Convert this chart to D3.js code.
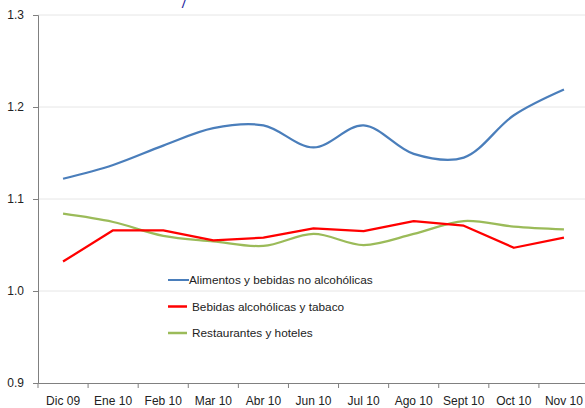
<!DOCTYPE html>
<html>
<head>
<meta charset="utf-8">
<script src="https://cdn.jsdelivr.net/npm/d3@7"></script>
<style>
body{margin:0;background:#fff;}
svg{display:block;}
text{font-family:"Liberation Sans",Arial,sans-serif;}
</style>
</head>
<body>
<svg id="chart" width="585" height="408"></svg>
<script>
const categories = ["Dic 09","Ene 10","Feb 10","Mar 10","Abr 10","Jun 10","Jul 10","Ago 10","Sept 10","Oct 10","Nov 10"];
const alimentos = [1.122,1.137,1.158,1.177,1.180,1.156,1.180,1.149,1.145,1.191,1.219];
const bebidas = [1.032,1.066,1.066,1.055,1.058,1.068,1.065,1.076,1.071,1.047,1.058];
const restaurantes = [1.084,1.075,1.060,1.054,1.049,1.062,1.050,1.062,1.076,1.070,1.067];
const yTicks = [0.9,1.0,1.1,1.2,1.3];
const seriesNames = ["Alimentos y bebidas no alcohólicas","Bebidas alcohólicas y tabaco","Restaurantes y hoteles"];

const svg = d3.select("#chart");
const mLeft = 38, mRight = 589, mTop = 15, mBottom = 383;

const x = d3.scaleBand().domain(categories).range([mLeft, mRight]);
const y = d3.scaleLinear().domain([0.9, 1.3]).range([mBottom, mTop]);

// gridlines
svg.append("g").selectAll("line").data(yTicks.filter(d => d > 0.9)).enter().append("line")
  .attr("x1", mLeft).attr("x2", 585)
  .attr("y1", d => y(d)).attr("y2", d => y(d))
  .attr("stroke", "#e6e6e6").attr("stroke-width", 1);

// y axis
const yAxis = svg.append("g").attr("transform", `translate(${mLeft},0)`)
  .call(d3.axisLeft(y).tickValues(yTicks).tickFormat(d3.format(".1f")).tickSize(5).tickPadding(9));
yAxis.select(".domain").attr("stroke", "#808080");
yAxis.selectAll(".tick line").attr("stroke", "#808080");
yAxis.selectAll("text").attr("font-size", 12).attr("fill", "#222");

// x axis
const xAxis = svg.append("g").attr("transform", `translate(0,${mBottom})`)
  .call(d3.axisBottom(x).tickSize(0).tickPadding(13));
xAxis.select(".domain").attr("stroke", "#808080");
xAxis.selectAll("text").attr("font-size", 12).attr("fill", "#222");
// boundary ticks
svg.append("g").selectAll("line").data(categories).enter().append("line")
  .attr("x1", d => x(d)).attr("x2", d => x(d))
  .attr("y1", mBottom).attr("y2", mBottom + 5)
  .attr("stroke", "#808080");

const cx = (d, i) => x(categories[i]) + x.bandwidth() / 2;
const smooth = d3.line().x(cx).y(d => y(d)).curve(d3.curveCatmullRom.alpha(0.5));
const straight = d3.line().x(cx).y(d => y(d));

svg.append("path").attr("d", smooth(restaurantes)).attr("fill", "none").attr("stroke", "#9bbb59").attr("stroke-width", 2.25);
svg.append("path").attr("d", straight(bebidas)).attr("fill", "none").attr("stroke", "#ff0000").attr("stroke-width", 2.25).attr("stroke-linejoin", "round");
svg.append("path").attr("d", smooth(alimentos)).attr("fill", "none").attr("stroke", "#4a7ebb").attr("stroke-width", 2.25);

// legend
const legColors = ["#4a7ebb", "#ff0000", "#9bbb59"];
const leg = svg.append("g");
seriesNames.forEach((name, i) => {
  const ly = 280 + i * 26.5;
  leg.append("line").attr("x1", 168).attr("x2", i === 0 ? 189 : 187).attr("y1", ly).attr("y2", ly)
    .attr("stroke", legColors[i]).attr("stroke-width", i === 0 ? 2 : 2.5);
  leg.append("text").attr("x", i === 0 ? 189 : 192).attr("y", ly + 4)
    .attr("font-size", 11.8).attr("fill", "#222").text(name);
});

// title fragment at top
svg.append("text").attr("x", 182).attr("y", 8).attr("font-size", 10).attr("font-weight", "bold")
  .attr("fill", "#1f1f9f").attr("font-style", "italic").text("/");
</script>
</body>
</html>
